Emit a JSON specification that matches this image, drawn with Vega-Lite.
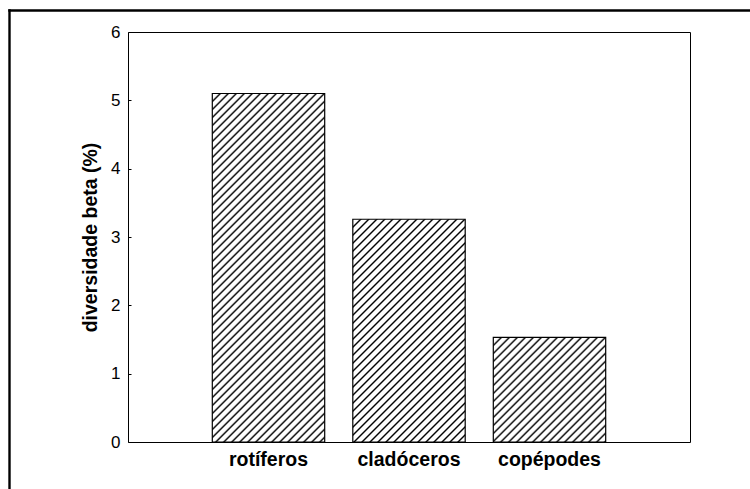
{
"$schema": "https://vega.github.io/schema/vega-lite/v6.json",
"width": 562, "height": 410,
"autosize": {"type": "none"},
"padding": {"left": 128, "top": 32, "right": 60, "bottom": 47},
"background": "white",
"config": {"view": {"stroke": "#000", "strokeWidth": 1}, "font": "Liberation Sans"},
"data": {"values": [
{"grupo": "rotíferos", "beta": 5.1},
{"grupo": "cladóceros", "beta": 3.26},
{"grupo": "copépodes", "beta": 1.53}
]},
"layer": [
{
"transform": [{"filter": {"field": "grupo", "equal": "rotíferos"}}],
"mark": {"type": "bar", "stroke": "#000", "strokeWidth": 1.2, "fill": {"gradient": "linear", "x1": 0, "y1": 0, "x2": 0.670614, "y2": 2.079263, "stops": [
{"offset":0,"color":"#fff"},
{"offset":0.0075,"color":"#fff"},{"offset":0.01,"color":"#000"},{"offset":0.0125,"color":"#fff"},
{"offset":0.0175,"color":"#fff"},{"offset":0.02,"color":"#000"},{"offset":0.0225,"color":"#fff"},
{"offset":0.0275,"color":"#fff"},{"offset":0.03,"color":"#000"},{"offset":0.0325,"color":"#fff"},
{"offset":0.0375,"color":"#fff"},{"offset":0.04,"color":"#000"},{"offset":0.0425,"color":"#fff"},
{"offset":0.0475,"color":"#fff"},{"offset":0.05,"color":"#000"},{"offset":0.0525,"color":"#fff"},
{"offset":0.0575,"color":"#fff"},{"offset":0.06,"color":"#000"},{"offset":0.0625,"color":"#fff"},
{"offset":0.0675,"color":"#fff"},{"offset":0.07,"color":"#000"},{"offset":0.0725,"color":"#fff"},
{"offset":0.0775,"color":"#fff"},{"offset":0.08,"color":"#000"},{"offset":0.0825,"color":"#fff"},
{"offset":0.0875,"color":"#fff"},{"offset":0.09,"color":"#000"},{"offset":0.0925,"color":"#fff"},
{"offset":0.0975,"color":"#fff"},{"offset":0.1,"color":"#000"},{"offset":0.1025,"color":"#fff"},
{"offset":0.1075,"color":"#fff"},{"offset":0.11,"color":"#000"},{"offset":0.1125,"color":"#fff"},
{"offset":0.1175,"color":"#fff"},{"offset":0.12,"color":"#000"},{"offset":0.1225,"color":"#fff"},
{"offset":0.1275,"color":"#fff"},{"offset":0.13,"color":"#000"},{"offset":0.1325,"color":"#fff"},
{"offset":0.1375,"color":"#fff"},{"offset":0.14,"color":"#000"},{"offset":0.1425,"color":"#fff"},
{"offset":0.1475,"color":"#fff"},{"offset":0.15,"color":"#000"},{"offset":0.1525,"color":"#fff"},
{"offset":0.1575,"color":"#fff"},{"offset":0.16,"color":"#000"},{"offset":0.1625,"color":"#fff"},
{"offset":0.1675,"color":"#fff"},{"offset":0.17,"color":"#000"},{"offset":0.1725,"color":"#fff"},
{"offset":0.1775,"color":"#fff"},{"offset":0.18,"color":"#000"},{"offset":0.1825,"color":"#fff"},
{"offset":0.1875,"color":"#fff"},{"offset":0.19,"color":"#000"},{"offset":0.1925,"color":"#fff"},
{"offset":0.1975,"color":"#fff"},{"offset":0.2,"color":"#000"},{"offset":0.2025,"color":"#fff"},
{"offset":0.2075,"color":"#fff"},{"offset":0.21,"color":"#000"},{"offset":0.2125,"color":"#fff"},
{"offset":0.2175,"color":"#fff"},{"offset":0.22,"color":"#000"},{"offset":0.2225,"color":"#fff"},
{"offset":0.2275,"color":"#fff"},{"offset":0.23,"color":"#000"},{"offset":0.2325,"color":"#fff"},
{"offset":0.2375,"color":"#fff"},{"offset":0.24,"color":"#000"},{"offset":0.2425,"color":"#fff"},
{"offset":0.2475,"color":"#fff"},{"offset":0.25,"color":"#000"},{"offset":0.2525,"color":"#fff"},
{"offset":0.2575,"color":"#fff"},{"offset":0.26,"color":"#000"},{"offset":0.2625,"color":"#fff"},
{"offset":0.2675,"color":"#fff"},{"offset":0.27,"color":"#000"},{"offset":0.2725,"color":"#fff"},
{"offset":0.2775,"color":"#fff"},{"offset":0.28,"color":"#000"},{"offset":0.2825,"color":"#fff"},
{"offset":0.2875,"color":"#fff"},{"offset":0.29,"color":"#000"},{"offset":0.2925,"color":"#fff"},
{"offset":0.2975,"color":"#fff"},{"offset":0.3,"color":"#000"},{"offset":0.3025,"color":"#fff"},
{"offset":0.3075,"color":"#fff"},{"offset":0.31,"color":"#000"},{"offset":0.3125,"color":"#fff"},
{"offset":0.3175,"color":"#fff"},{"offset":0.32,"color":"#000"},{"offset":0.3225,"color":"#fff"},
{"offset":0.3275,"color":"#fff"},{"offset":0.33,"color":"#000"},{"offset":0.3325,"color":"#fff"},
{"offset":0.3375,"color":"#fff"},{"offset":0.34,"color":"#000"},{"offset":0.3425,"color":"#fff"},
{"offset":0.3475,"color":"#fff"},{"offset":0.35,"color":"#000"},{"offset":0.3525,"color":"#fff"},
{"offset":0.3575,"color":"#fff"},{"offset":0.36,"color":"#000"},{"offset":0.3625,"color":"#fff"},
{"offset":0.3675,"color":"#fff"},{"offset":0.37,"color":"#000"},{"offset":0.3725,"color":"#fff"},
{"offset":0.3775,"color":"#fff"},{"offset":0.38,"color":"#000"},{"offset":0.3825,"color":"#fff"},
{"offset":0.3875,"color":"#fff"},{"offset":0.39,"color":"#000"},{"offset":0.3925,"color":"#fff"},
{"offset":0.3975,"color":"#fff"},{"offset":0.4,"color":"#000"},{"offset":0.4025,"color":"#fff"},
{"offset":0.4075,"color":"#fff"},{"offset":0.41,"color":"#000"},{"offset":0.4125,"color":"#fff"},
{"offset":0.4175,"color":"#fff"},{"offset":0.42,"color":"#000"},{"offset":0.4225,"color":"#fff"},
{"offset":0.4275,"color":"#fff"},{"offset":0.43,"color":"#000"},{"offset":0.4325,"color":"#fff"},
{"offset":0.4375,"color":"#fff"},{"offset":0.44,"color":"#000"},{"offset":0.4425,"color":"#fff"},
{"offset":0.4475,"color":"#fff"},{"offset":0.45,"color":"#000"},{"offset":0.4525,"color":"#fff"},
{"offset":0.4575,"color":"#fff"},{"offset":0.46,"color":"#000"},{"offset":0.4625,"color":"#fff"},
{"offset":0.4675,"color":"#fff"},{"offset":0.47,"color":"#000"},{"offset":0.4725,"color":"#fff"},
{"offset":0.4775,"color":"#fff"},{"offset":0.48,"color":"#000"},{"offset":0.4825,"color":"#fff"},
{"offset":0.4875,"color":"#fff"},{"offset":0.49,"color":"#000"},{"offset":0.4925,"color":"#fff"},
{"offset":0.4975,"color":"#fff"},{"offset":0.5,"color":"#000"},{"offset":0.5025,"color":"#fff"},
{"offset":0.5075,"color":"#fff"},{"offset":0.51,"color":"#000"},{"offset":0.5125,"color":"#fff"},
{"offset":0.5175,"color":"#fff"},{"offset":0.52,"color":"#000"},{"offset":0.5225,"color":"#fff"},
{"offset":0.5275,"color":"#fff"},{"offset":0.53,"color":"#000"},{"offset":0.5325,"color":"#fff"},
{"offset":0.5375,"color":"#fff"},{"offset":0.54,"color":"#000"},{"offset":0.5425,"color":"#fff"},
{"offset":0.5475,"color":"#fff"},{"offset":0.55,"color":"#000"},{"offset":0.5525,"color":"#fff"},
{"offset":0.5575,"color":"#fff"},{"offset":0.56,"color":"#000"},{"offset":0.5625,"color":"#fff"},
{"offset":0.5675,"color":"#fff"},{"offset":0.57,"color":"#000"},{"offset":0.5725,"color":"#fff"},
{"offset":0.5775,"color":"#fff"},{"offset":0.58,"color":"#000"},{"offset":0.5825,"color":"#fff"}
]}},
"encoding": {
"x": {"field": "grupo", "type": "nominal", "scale": {"domain": ["rotíferos", "cladóceros", "copépodes"], "paddingInner": 0.2, "paddingOuter": 0.6},
"axis": {"orient": "bottom", "title": null, "domain": false, "ticks": false, "labelAngle": 0, "labelFontSize": 19.5, "labelFontWeight": "bold", "labelColor": "#000", "labelPadding": 8, "labelFont": "Liberation Sans"}},
"y": {"field": "beta", "type": "quantitative", "scale": {"domain": [0, 6], "nice": false},
"axis": {"orient": "left", "title": "diversidade beta (%)", "titleFont": "Liberation Sans", "titleFontSize": 19.5, "titleFontWeight": "bold", "titleColor": "#000", "titlePadding": 10, "values": [0, 1, 2, 3, 4, 5, 6], "grid": false, "domain": false, "ticks": true, "tickSize": -3, "tickColor": "#000", "tickWidth": 1, "labelFont": "Liberation Sans", "labelFontSize": 17, "labelColor": "#000", "labelPadding": 11, "labelFlush": false, "labelOverlap": false}}
}
},
{
"transform": [{"filter": {"field": "grupo", "equal": "cladóceros"}}],
"mark": {"type": "bar", "stroke": "#000", "strokeWidth": 1.2, "fill": {"gradient": "linear", "x1": 0, "y1": 0, "x2": 1.4443, "y2": 2.86247, "stops": [
{"offset":0,"color":"#fff"},
{"offset":0.0075,"color":"#fff"},{"offset":0.01,"color":"#000"},{"offset":0.0125,"color":"#fff"},
{"offset":0.0175,"color":"#fff"},{"offset":0.02,"color":"#000"},{"offset":0.0225,"color":"#fff"},
{"offset":0.0275,"color":"#fff"},{"offset":0.03,"color":"#000"},{"offset":0.0325,"color":"#fff"},
{"offset":0.0375,"color":"#fff"},{"offset":0.04,"color":"#000"},{"offset":0.0425,"color":"#fff"},
{"offset":0.0475,"color":"#fff"},{"offset":0.05,"color":"#000"},{"offset":0.0525,"color":"#fff"},
{"offset":0.0575,"color":"#fff"},{"offset":0.06,"color":"#000"},{"offset":0.0625,"color":"#fff"},
{"offset":0.0675,"color":"#fff"},{"offset":0.07,"color":"#000"},{"offset":0.0725,"color":"#fff"},
{"offset":0.0775,"color":"#fff"},{"offset":0.08,"color":"#000"},{"offset":0.0825,"color":"#fff"},
{"offset":0.0875,"color":"#fff"},{"offset":0.09,"color":"#000"},{"offset":0.0925,"color":"#fff"},
{"offset":0.0975,"color":"#fff"},{"offset":0.1,"color":"#000"},{"offset":0.1025,"color":"#fff"},
{"offset":0.1075,"color":"#fff"},{"offset":0.11,"color":"#000"},{"offset":0.1125,"color":"#fff"},
{"offset":0.1175,"color":"#fff"},{"offset":0.12,"color":"#000"},{"offset":0.1225,"color":"#fff"},
{"offset":0.1275,"color":"#fff"},{"offset":0.13,"color":"#000"},{"offset":0.1325,"color":"#fff"},
{"offset":0.1375,"color":"#fff"},{"offset":0.14,"color":"#000"},{"offset":0.1425,"color":"#fff"},
{"offset":0.1475,"color":"#fff"},{"offset":0.15,"color":"#000"},{"offset":0.1525,"color":"#fff"},
{"offset":0.1575,"color":"#fff"},{"offset":0.16,"color":"#000"},{"offset":0.1625,"color":"#fff"},
{"offset":0.1675,"color":"#fff"},{"offset":0.17,"color":"#000"},{"offset":0.1725,"color":"#fff"},
{"offset":0.1775,"color":"#fff"},{"offset":0.18,"color":"#000"},{"offset":0.1825,"color":"#fff"},
{"offset":0.1875,"color":"#fff"},{"offset":0.19,"color":"#000"},{"offset":0.1925,"color":"#fff"},
{"offset":0.1975,"color":"#fff"},{"offset":0.2,"color":"#000"},{"offset":0.2025,"color":"#fff"},
{"offset":0.2075,"color":"#fff"},{"offset":0.21,"color":"#000"},{"offset":0.2125,"color":"#fff"},
{"offset":0.2175,"color":"#fff"},{"offset":0.22,"color":"#000"},{"offset":0.2225,"color":"#fff"},
{"offset":0.2275,"color":"#fff"},{"offset":0.23,"color":"#000"},{"offset":0.2325,"color":"#fff"},
{"offset":0.2375,"color":"#fff"},{"offset":0.24,"color":"#000"},{"offset":0.2425,"color":"#fff"},
{"offset":0.2475,"color":"#fff"},{"offset":0.25,"color":"#000"},{"offset":0.2525,"color":"#fff"},
{"offset":0.2575,"color":"#fff"},{"offset":0.26,"color":"#000"},{"offset":0.2625,"color":"#fff"},
{"offset":0.2675,"color":"#fff"},{"offset":0.27,"color":"#000"},{"offset":0.2725,"color":"#fff"},
{"offset":0.2775,"color":"#fff"},{"offset":0.28,"color":"#000"},{"offset":0.2825,"color":"#fff"},
{"offset":0.2875,"color":"#fff"},{"offset":0.29,"color":"#000"},{"offset":0.2925,"color":"#fff"},
{"offset":0.2975,"color":"#fff"},{"offset":0.3,"color":"#000"},{"offset":0.3025,"color":"#fff"},
{"offset":0.3075,"color":"#fff"},{"offset":0.31,"color":"#000"},{"offset":0.3125,"color":"#fff"},
{"offset":0.3175,"color":"#fff"},{"offset":0.32,"color":"#000"},{"offset":0.3225,"color":"#fff"},
{"offset":0.3275,"color":"#fff"},{"offset":0.33,"color":"#000"},{"offset":0.3325,"color":"#fff"},
{"offset":0.3375,"color":"#fff"},{"offset":0.34,"color":"#000"},{"offset":0.3425,"color":"#fff"},
{"offset":0.3475,"color":"#fff"},{"offset":0.35,"color":"#000"},{"offset":0.3525,"color":"#fff"},
{"offset":0.3575,"color":"#fff"},{"offset":0.36,"color":"#000"},{"offset":0.3625,"color":"#fff"},
{"offset":0.3675,"color":"#fff"},{"offset":0.37,"color":"#000"},{"offset":0.3725,"color":"#fff"},
{"offset":0.3775,"color":"#fff"},{"offset":0.38,"color":"#000"},{"offset":0.3825,"color":"#fff"},
{"offset":0.3875,"color":"#fff"},{"offset":0.39,"color":"#000"},{"offset":0.3925,"color":"#fff"},
{"offset":0.3975,"color":"#fff"},{"offset":0.4,"color":"#000"},{"offset":0.4025,"color":"#fff"},
{"offset":0.4075,"color":"#fff"},{"offset":0.41,"color":"#000"},{"offset":0.4125,"color":"#fff"},
{"offset":0.4175,"color":"#fff"},{"offset":0.42,"color":"#000"},{"offset":0.4225,"color":"#fff"}
]}},
"encoding": {
"x": {"field": "grupo", "type": "nominal", "scale": {"domain": ["rotíferos", "cladóceros", "copépodes"], "paddingInner": 0.2, "paddingOuter": 0.6}, "axis": null},
"y": {"field": "beta", "type": "quantitative", "scale": {"domain": [0, 6], "nice": false}, "axis": null}
}
},
{
"transform": [{"filter": {"field": "grupo", "equal": "copépodes"}}],
"mark": {"type": "bar", "stroke": "#000", "strokeWidth": 1.2, "fill": {"gradient": "linear", "x1": 0, "y1": 0, "x2": 3.81592, "y2": 3.54942, "stops": [
{"offset":0,"color":"#fff"},
{"offset":0.0075,"color":"#fff"},{"offset":0.01,"color":"#000"},{"offset":0.0125,"color":"#fff"},
{"offset":0.0175,"color":"#fff"},{"offset":0.02,"color":"#000"},{"offset":0.0225,"color":"#fff"},
{"offset":0.0275,"color":"#fff"},{"offset":0.03,"color":"#000"},{"offset":0.0325,"color":"#fff"},
{"offset":0.0375,"color":"#fff"},{"offset":0.04,"color":"#000"},{"offset":0.0425,"color":"#fff"},
{"offset":0.0475,"color":"#fff"},{"offset":0.05,"color":"#000"},{"offset":0.0525,"color":"#fff"},
{"offset":0.0575,"color":"#fff"},{"offset":0.06,"color":"#000"},{"offset":0.0625,"color":"#fff"},
{"offset":0.0675,"color":"#fff"},{"offset":0.07,"color":"#000"},{"offset":0.0725,"color":"#fff"},
{"offset":0.0775,"color":"#fff"},{"offset":0.08,"color":"#000"},{"offset":0.0825,"color":"#fff"},
{"offset":0.0875,"color":"#fff"},{"offset":0.09,"color":"#000"},{"offset":0.0925,"color":"#fff"},
{"offset":0.0975,"color":"#fff"},{"offset":0.1,"color":"#000"},{"offset":0.1025,"color":"#fff"},
{"offset":0.1075,"color":"#fff"},{"offset":0.11,"color":"#000"},{"offset":0.1125,"color":"#fff"},
{"offset":0.1175,"color":"#fff"},{"offset":0.12,"color":"#000"},{"offset":0.1225,"color":"#fff"},
{"offset":0.1275,"color":"#fff"},{"offset":0.13,"color":"#000"},{"offset":0.1325,"color":"#fff"},
{"offset":0.1375,"color":"#fff"},{"offset":0.14,"color":"#000"},{"offset":0.1425,"color":"#fff"},
{"offset":0.1475,"color":"#fff"},{"offset":0.15,"color":"#000"},{"offset":0.1525,"color":"#fff"},
{"offset":0.1575,"color":"#fff"},{"offset":0.16,"color":"#000"},{"offset":0.1625,"color":"#fff"},
{"offset":0.1675,"color":"#fff"},{"offset":0.17,"color":"#000"},{"offset":0.1725,"color":"#fff"},
{"offset":0.1775,"color":"#fff"},{"offset":0.18,"color":"#000"},{"offset":0.1825,"color":"#fff"},
{"offset":0.1875,"color":"#fff"},{"offset":0.19,"color":"#000"},{"offset":0.1925,"color":"#fff"},
{"offset":0.1975,"color":"#fff"},{"offset":0.2,"color":"#000"},{"offset":0.2025,"color":"#fff"},
{"offset":0.2075,"color":"#fff"},{"offset":0.21,"color":"#000"},{"offset":0.2125,"color":"#fff"},
{"offset":0.2175,"color":"#fff"},{"offset":0.22,"color":"#000"},{"offset":0.2225,"color":"#fff"},
{"offset":0.2275,"color":"#fff"},{"offset":0.23,"color":"#000"},{"offset":0.2325,"color":"#fff"},
{"offset":0.2375,"color":"#fff"},{"offset":0.24,"color":"#000"},{"offset":0.2425,"color":"#fff"},
{"offset":0.2475,"color":"#fff"},{"offset":0.25,"color":"#000"},{"offset":0.2525,"color":"#fff"},
{"offset":0.2575,"color":"#fff"},{"offset":0.26,"color":"#000"},{"offset":0.2625,"color":"#fff"},
{"offset":0.2675,"color":"#fff"},{"offset":0.27,"color":"#000"},{"offset":0.2725,"color":"#fff"},
{"offset":0.2775,"color":"#fff"},{"offset":0.28,"color":"#000"},{"offset":0.2825,"color":"#fff"}
]}},
"encoding": {
"x": {"field": "grupo", "type": "nominal", "scale": {"domain": ["rotíferos", "cladóceros", "copépodes"], "paddingInner": 0.2, "paddingOuter": 0.6}, "axis": null},
"y": {"field": "beta", "type": "quantitative", "scale": {"domain": [0, 6], "nice": false}, "axis": null}
}
},
{
"data": {"values": [{}]},
"mark": {"type": "rule", "stroke": "#000", "strokeWidth": 2.4},
"encoding": {
"x": {"datum": -0.8434, "type": "quantitative", "scale": {"domain": [0, 4], "nice": false, "zero": false}, "axis": null},
"y": {"datum": 6.332, "type": "quantitative", "scale": {"domain": [0, 6], "nice": false}, "axis": null},
"y2": {"datum": -0.69}
}
},
{
"data": {"values": [{}]},
"mark": {"type": "rule", "stroke": "#000", "strokeWidth": 2.4},
"encoding": {
"x": {"datum": -0.852, "type": "quantitative", "scale": {"domain": [0, 4], "nice": false, "zero": false}, "axis": null},
"x2": {"datum": 4.43},
"y": {"datum": 6.3146, "type": "quantitative", "scale": {"domain": [0, 6], "nice": false}, "axis": null}
}
}
],
"resolve": {"scale": {"x": "independent", "y": "independent"}}
}
